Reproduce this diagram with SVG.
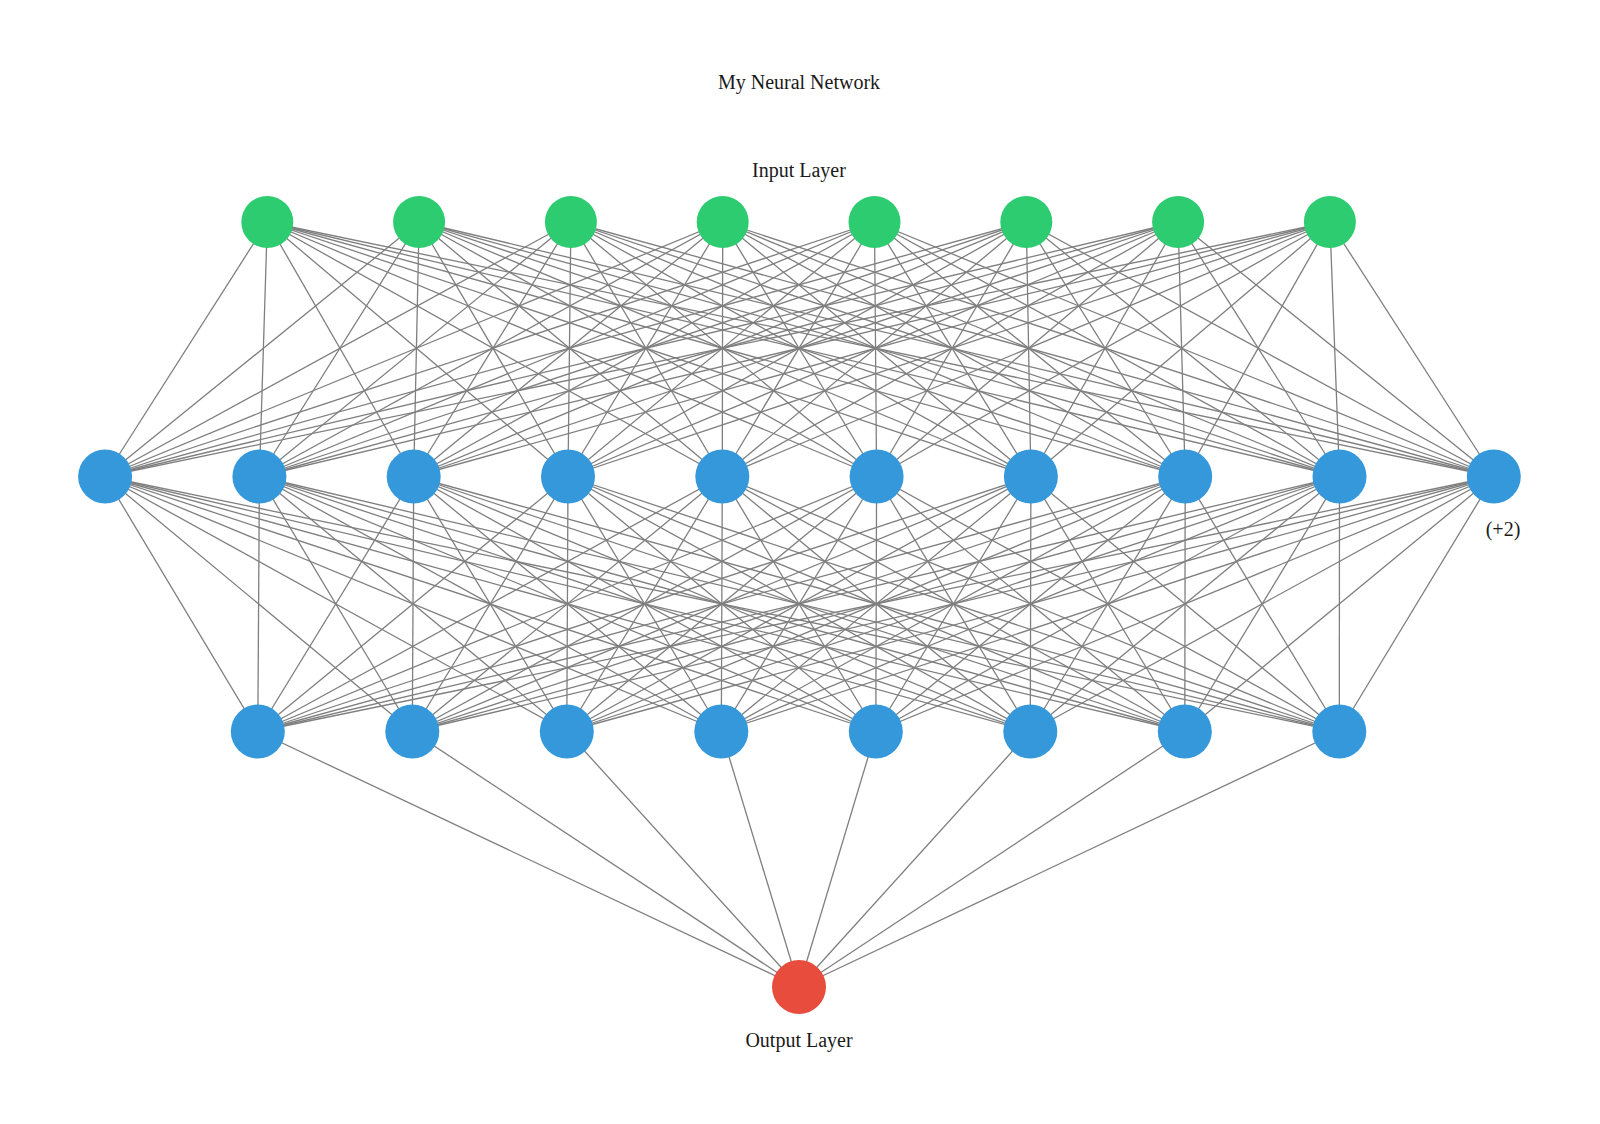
<svg xmlns="http://www.w3.org/2000/svg" width="1600" height="1124" viewBox="0 0 1600 1124">
<style>
.e{stroke:#7f7f7f;stroke-width:1.3;fill:none}
.in{fill:#2ecc71}
.hd{fill:#3498db}
.out{fill:#e74c3c}
.t{font-family:"Liberation Serif","Times New Roman",serif;font-size:20px;fill:#1a1a1a;text-anchor:middle}
</style>
<rect width="1600" height="1124" fill="#ffffff"/>
<text class="t" x="799" y="89">My Neural Network</text>
<text class="t" x="799" y="177">Input Layer</text>
<g id="connectors">
<line class="e" x1="267.3" y1="222" x2="105.1" y2="476.5"/><line class="e" x1="267.3" y1="222" x2="259.4" y2="476.5"/><line class="e" x1="267.3" y1="222" x2="413.7" y2="476.5"/><line class="e" x1="267.3" y1="222" x2="568" y2="476.5"/><line class="e" x1="267.3" y1="222" x2="722.3" y2="476.5"/><line class="e" x1="267.3" y1="222" x2="876.6" y2="476.5"/><line class="e" x1="267.3" y1="222" x2="1030.9" y2="476.5"/><line class="e" x1="267.3" y1="222" x2="1185.2" y2="476.5"/><line class="e" x1="267.3" y1="222" x2="1339.5" y2="476.5"/><line class="e" x1="267.3" y1="222" x2="1493.8" y2="476.5"/>
<line class="e" x1="419.1" y1="222" x2="105.1" y2="476.5"/><line class="e" x1="419.1" y1="222" x2="259.4" y2="476.5"/><line class="e" x1="419.1" y1="222" x2="413.7" y2="476.5"/><line class="e" x1="419.1" y1="222" x2="568" y2="476.5"/><line class="e" x1="419.1" y1="222" x2="722.3" y2="476.5"/><line class="e" x1="419.1" y1="222" x2="876.6" y2="476.5"/><line class="e" x1="419.1" y1="222" x2="1030.9" y2="476.5"/><line class="e" x1="419.1" y1="222" x2="1185.2" y2="476.5"/><line class="e" x1="419.1" y1="222" x2="1339.5" y2="476.5"/><line class="e" x1="419.1" y1="222" x2="1493.8" y2="476.5"/>
<line class="e" x1="570.9" y1="222" x2="105.1" y2="476.5"/><line class="e" x1="570.9" y1="222" x2="259.4" y2="476.5"/><line class="e" x1="570.9" y1="222" x2="413.7" y2="476.5"/><line class="e" x1="570.9" y1="222" x2="568" y2="476.5"/><line class="e" x1="570.9" y1="222" x2="722.3" y2="476.5"/><line class="e" x1="570.9" y1="222" x2="876.6" y2="476.5"/><line class="e" x1="570.9" y1="222" x2="1030.9" y2="476.5"/><line class="e" x1="570.9" y1="222" x2="1185.2" y2="476.5"/><line class="e" x1="570.9" y1="222" x2="1339.5" y2="476.5"/><line class="e" x1="570.9" y1="222" x2="1493.8" y2="476.5"/>
<line class="e" x1="722.7" y1="222" x2="105.1" y2="476.5"/><line class="e" x1="722.7" y1="222" x2="259.4" y2="476.5"/><line class="e" x1="722.7" y1="222" x2="413.7" y2="476.5"/><line class="e" x1="722.7" y1="222" x2="568" y2="476.5"/><line class="e" x1="722.7" y1="222" x2="722.3" y2="476.5"/><line class="e" x1="722.7" y1="222" x2="876.6" y2="476.5"/><line class="e" x1="722.7" y1="222" x2="1030.9" y2="476.5"/><line class="e" x1="722.7" y1="222" x2="1185.2" y2="476.5"/><line class="e" x1="722.7" y1="222" x2="1339.5" y2="476.5"/><line class="e" x1="722.7" y1="222" x2="1493.8" y2="476.5"/>
<line class="e" x1="874.5" y1="222" x2="105.1" y2="476.5"/><line class="e" x1="874.5" y1="222" x2="259.4" y2="476.5"/><line class="e" x1="874.5" y1="222" x2="413.7" y2="476.5"/><line class="e" x1="874.5" y1="222" x2="568" y2="476.5"/><line class="e" x1="874.5" y1="222" x2="722.3" y2="476.5"/><line class="e" x1="874.5" y1="222" x2="876.6" y2="476.5"/><line class="e" x1="874.5" y1="222" x2="1030.9" y2="476.5"/><line class="e" x1="874.5" y1="222" x2="1185.2" y2="476.5"/><line class="e" x1="874.5" y1="222" x2="1339.5" y2="476.5"/><line class="e" x1="874.5" y1="222" x2="1493.8" y2="476.5"/>
<line class="e" x1="1026.3" y1="222" x2="105.1" y2="476.5"/><line class="e" x1="1026.3" y1="222" x2="259.4" y2="476.5"/><line class="e" x1="1026.3" y1="222" x2="413.7" y2="476.5"/><line class="e" x1="1026.3" y1="222" x2="568" y2="476.5"/><line class="e" x1="1026.3" y1="222" x2="722.3" y2="476.5"/><line class="e" x1="1026.3" y1="222" x2="876.6" y2="476.5"/><line class="e" x1="1026.3" y1="222" x2="1030.9" y2="476.5"/><line class="e" x1="1026.3" y1="222" x2="1185.2" y2="476.5"/><line class="e" x1="1026.3" y1="222" x2="1339.5" y2="476.5"/><line class="e" x1="1026.3" y1="222" x2="1493.8" y2="476.5"/>
<line class="e" x1="1178.1" y1="222" x2="105.1" y2="476.5"/><line class="e" x1="1178.1" y1="222" x2="259.4" y2="476.5"/><line class="e" x1="1178.1" y1="222" x2="413.7" y2="476.5"/><line class="e" x1="1178.1" y1="222" x2="568" y2="476.5"/><line class="e" x1="1178.1" y1="222" x2="722.3" y2="476.5"/><line class="e" x1="1178.1" y1="222" x2="876.6" y2="476.5"/><line class="e" x1="1178.1" y1="222" x2="1030.9" y2="476.5"/><line class="e" x1="1178.1" y1="222" x2="1185.2" y2="476.5"/><line class="e" x1="1178.1" y1="222" x2="1339.5" y2="476.5"/><line class="e" x1="1178.1" y1="222" x2="1493.8" y2="476.5"/>
<line class="e" x1="1329.9" y1="222" x2="105.1" y2="476.5"/><line class="e" x1="1329.9" y1="222" x2="259.4" y2="476.5"/><line class="e" x1="1329.9" y1="222" x2="413.7" y2="476.5"/><line class="e" x1="1329.9" y1="222" x2="568" y2="476.5"/><line class="e" x1="1329.9" y1="222" x2="722.3" y2="476.5"/><line class="e" x1="1329.9" y1="222" x2="876.6" y2="476.5"/><line class="e" x1="1329.9" y1="222" x2="1030.9" y2="476.5"/><line class="e" x1="1329.9" y1="222" x2="1185.2" y2="476.5"/><line class="e" x1="1329.9" y1="222" x2="1339.5" y2="476.5"/><line class="e" x1="1329.9" y1="222" x2="1493.8" y2="476.5"/>
<line class="e" x1="105.1" y1="476.5" x2="257.8" y2="731.5"/><line class="e" x1="105.1" y1="476.5" x2="412.3" y2="731.5"/><line class="e" x1="105.1" y1="476.5" x2="566.8" y2="731.5"/><line class="e" x1="105.1" y1="476.5" x2="721.3" y2="731.5"/><line class="e" x1="105.1" y1="476.5" x2="875.8" y2="731.5"/><line class="e" x1="105.1" y1="476.5" x2="1030.3" y2="731.5"/><line class="e" x1="105.1" y1="476.5" x2="1184.8" y2="731.5"/><line class="e" x1="105.1" y1="476.5" x2="1339.3" y2="731.5"/>
<line class="e" x1="259.4" y1="476.5" x2="257.8" y2="731.5"/><line class="e" x1="259.4" y1="476.5" x2="412.3" y2="731.5"/><line class="e" x1="259.4" y1="476.5" x2="566.8" y2="731.5"/><line class="e" x1="259.4" y1="476.5" x2="721.3" y2="731.5"/><line class="e" x1="259.4" y1="476.5" x2="875.8" y2="731.5"/><line class="e" x1="259.4" y1="476.5" x2="1030.3" y2="731.5"/><line class="e" x1="259.4" y1="476.5" x2="1184.8" y2="731.5"/><line class="e" x1="259.4" y1="476.5" x2="1339.3" y2="731.5"/>
<line class="e" x1="413.7" y1="476.5" x2="257.8" y2="731.5"/><line class="e" x1="413.7" y1="476.5" x2="412.3" y2="731.5"/><line class="e" x1="413.7" y1="476.5" x2="566.8" y2="731.5"/><line class="e" x1="413.7" y1="476.5" x2="721.3" y2="731.5"/><line class="e" x1="413.7" y1="476.5" x2="875.8" y2="731.5"/><line class="e" x1="413.7" y1="476.5" x2="1030.3" y2="731.5"/><line class="e" x1="413.7" y1="476.5" x2="1184.8" y2="731.5"/><line class="e" x1="413.7" y1="476.5" x2="1339.3" y2="731.5"/>
<line class="e" x1="568" y1="476.5" x2="257.8" y2="731.5"/><line class="e" x1="568" y1="476.5" x2="412.3" y2="731.5"/><line class="e" x1="568" y1="476.5" x2="566.8" y2="731.5"/><line class="e" x1="568" y1="476.5" x2="721.3" y2="731.5"/><line class="e" x1="568" y1="476.5" x2="875.8" y2="731.5"/><line class="e" x1="568" y1="476.5" x2="1030.3" y2="731.5"/><line class="e" x1="568" y1="476.5" x2="1184.8" y2="731.5"/><line class="e" x1="568" y1="476.5" x2="1339.3" y2="731.5"/>
<line class="e" x1="722.3" y1="476.5" x2="257.8" y2="731.5"/><line class="e" x1="722.3" y1="476.5" x2="412.3" y2="731.5"/><line class="e" x1="722.3" y1="476.5" x2="566.8" y2="731.5"/><line class="e" x1="722.3" y1="476.5" x2="721.3" y2="731.5"/><line class="e" x1="722.3" y1="476.5" x2="875.8" y2="731.5"/><line class="e" x1="722.3" y1="476.5" x2="1030.3" y2="731.5"/><line class="e" x1="722.3" y1="476.5" x2="1184.8" y2="731.5"/><line class="e" x1="722.3" y1="476.5" x2="1339.3" y2="731.5"/>
<line class="e" x1="876.6" y1="476.5" x2="257.8" y2="731.5"/><line class="e" x1="876.6" y1="476.5" x2="412.3" y2="731.5"/><line class="e" x1="876.6" y1="476.5" x2="566.8" y2="731.5"/><line class="e" x1="876.6" y1="476.5" x2="721.3" y2="731.5"/><line class="e" x1="876.6" y1="476.5" x2="875.8" y2="731.5"/><line class="e" x1="876.6" y1="476.5" x2="1030.3" y2="731.5"/><line class="e" x1="876.6" y1="476.5" x2="1184.8" y2="731.5"/><line class="e" x1="876.6" y1="476.5" x2="1339.3" y2="731.5"/>
<line class="e" x1="1030.9" y1="476.5" x2="257.8" y2="731.5"/><line class="e" x1="1030.9" y1="476.5" x2="412.3" y2="731.5"/><line class="e" x1="1030.9" y1="476.5" x2="566.8" y2="731.5"/><line class="e" x1="1030.9" y1="476.5" x2="721.3" y2="731.5"/><line class="e" x1="1030.9" y1="476.5" x2="875.8" y2="731.5"/><line class="e" x1="1030.9" y1="476.5" x2="1030.3" y2="731.5"/><line class="e" x1="1030.9" y1="476.5" x2="1184.8" y2="731.5"/><line class="e" x1="1030.9" y1="476.5" x2="1339.3" y2="731.5"/>
<line class="e" x1="1185.2" y1="476.5" x2="257.8" y2="731.5"/><line class="e" x1="1185.2" y1="476.5" x2="412.3" y2="731.5"/><line class="e" x1="1185.2" y1="476.5" x2="566.8" y2="731.5"/><line class="e" x1="1185.2" y1="476.5" x2="721.3" y2="731.5"/><line class="e" x1="1185.2" y1="476.5" x2="875.8" y2="731.5"/><line class="e" x1="1185.2" y1="476.5" x2="1030.3" y2="731.5"/><line class="e" x1="1185.2" y1="476.5" x2="1184.8" y2="731.5"/><line class="e" x1="1185.2" y1="476.5" x2="1339.3" y2="731.5"/>
<line class="e" x1="1339.5" y1="476.5" x2="257.8" y2="731.5"/><line class="e" x1="1339.5" y1="476.5" x2="412.3" y2="731.5"/><line class="e" x1="1339.5" y1="476.5" x2="566.8" y2="731.5"/><line class="e" x1="1339.5" y1="476.5" x2="721.3" y2="731.5"/><line class="e" x1="1339.5" y1="476.5" x2="875.8" y2="731.5"/><line class="e" x1="1339.5" y1="476.5" x2="1030.3" y2="731.5"/><line class="e" x1="1339.5" y1="476.5" x2="1184.8" y2="731.5"/><line class="e" x1="1339.5" y1="476.5" x2="1339.3" y2="731.5"/>
<line class="e" x1="1493.8" y1="476.5" x2="257.8" y2="731.5"/><line class="e" x1="1493.8" y1="476.5" x2="412.3" y2="731.5"/><line class="e" x1="1493.8" y1="476.5" x2="566.8" y2="731.5"/><line class="e" x1="1493.8" y1="476.5" x2="721.3" y2="731.5"/><line class="e" x1="1493.8" y1="476.5" x2="875.8" y2="731.5"/><line class="e" x1="1493.8" y1="476.5" x2="1030.3" y2="731.5"/><line class="e" x1="1493.8" y1="476.5" x2="1184.8" y2="731.5"/><line class="e" x1="1493.8" y1="476.5" x2="1339.3" y2="731.5"/>
<line class="e" x1="257.8" y1="731.5" x2="799" y2="987"/><line class="e" x1="412.3" y1="731.5" x2="799" y2="987"/><line class="e" x1="566.8" y1="731.5" x2="799" y2="987"/><line class="e" x1="721.3" y1="731.5" x2="799" y2="987"/><line class="e" x1="875.8" y1="731.5" x2="799" y2="987"/><line class="e" x1="1030.3" y1="731.5" x2="799" y2="987"/><line class="e" x1="1184.8" y1="731.5" x2="799" y2="987"/><line class="e" x1="1339.3" y1="731.5" x2="799" y2="987"/>
</g>
<g id="input-layer">
<g id="in0"><circle class="in" cx="267.3" cy="222" r="26"/></g>
<g id="in1"><circle class="in" cx="419.1" cy="222" r="26"/></g>
<g id="in2"><circle class="in" cx="570.9" cy="222" r="26"/></g>
<g id="in3"><circle class="in" cx="722.7" cy="222" r="26"/></g>
<g id="in4"><circle class="in" cx="874.5" cy="222" r="26"/></g>
<g id="in5"><circle class="in" cx="1026.3" cy="222" r="26"/></g>
<g id="in6"><circle class="in" cx="1178.1" cy="222" r="26"/></g>
<g id="in7"><circle class="in" cx="1329.9" cy="222" r="26"/></g>
</g>
<g id="hidden-layer-1">
<g id="h1_0"><circle class="hd" cx="105.1" cy="476.5" r="27"/></g>
<g id="h1_1"><circle class="hd" cx="259.4" cy="476.5" r="27"/></g>
<g id="h1_2"><circle class="hd" cx="413.7" cy="476.5" r="27"/></g>
<g id="h1_3"><circle class="hd" cx="568" cy="476.5" r="27"/></g>
<g id="h1_4"><circle class="hd" cx="722.3" cy="476.5" r="27"/></g>
<g id="h1_5"><circle class="hd" cx="876.6" cy="476.5" r="27"/></g>
<g id="h1_6"><circle class="hd" cx="1030.9" cy="476.5" r="27"/></g>
<g id="h1_7"><circle class="hd" cx="1185.2" cy="476.5" r="27"/></g>
<g id="h1_8"><circle class="hd" cx="1339.5" cy="476.5" r="27"/></g>
<g id="h1_9"><circle class="hd" cx="1493.8" cy="476.5" r="27"/><text class="t" x="1503" y="536">(+2)</text></g>
</g>
<g id="hidden-layer-2">
<g id="h2_0"><circle class="hd" cx="257.8" cy="731.5" r="27"/></g>
<g id="h2_1"><circle class="hd" cx="412.3" cy="731.5" r="27"/></g>
<g id="h2_2"><circle class="hd" cx="566.8" cy="731.5" r="27"/></g>
<g id="h2_3"><circle class="hd" cx="721.3" cy="731.5" r="27"/></g>
<g id="h2_4"><circle class="hd" cx="875.8" cy="731.5" r="27"/></g>
<g id="h2_5"><circle class="hd" cx="1030.3" cy="731.5" r="27"/></g>
<g id="h2_6"><circle class="hd" cx="1184.8" cy="731.5" r="27"/></g>
<g id="h2_7"><circle class="hd" cx="1339.3" cy="731.5" r="27"/></g>
</g>
<g id="output-layer">
<g id="out0"><circle class="out" cx="799" cy="987" r="27"/></g>
</g>
<text class="t" x="799" y="1047">Output Layer</text>
</svg>
